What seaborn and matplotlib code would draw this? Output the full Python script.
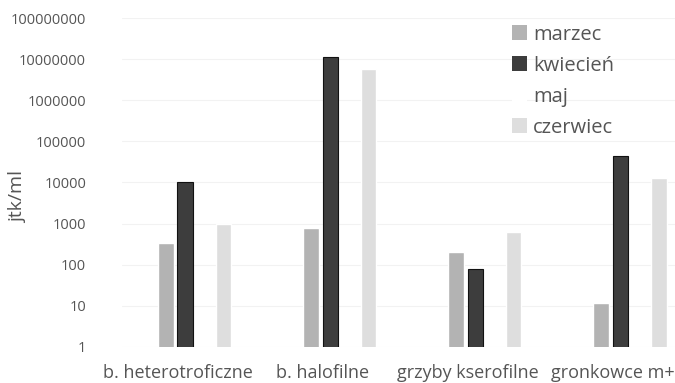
import numpy as np
import pandas as pd
import matplotlib
matplotlib.use("Agg")
import matplotlib.pyplot as plt
import matplotlib.ticker as mticker
import matplotlib.transforms as mtransforms
from matplotlib.patches import Patch
import seaborn as sns

# data (jtk/ml, log scale)
categories = ["b. heterotroficzne", "b. halofilne", "grzyby kserofilne", "gronkowce m+"]
months = ["marzec", "kwiecień", "maj", "czerwiec"]
marzec = [340, 800, 200, 12]
kwiecien = [10000, 11000000, 80, 45000]
maj = [np.nan, np.nan, np.nan, np.nan]
czerwiec = [1000, 5800000, 630, 13000]
yticks = [1, 10, 100, 1000, 10000, 100000, 1000000, 10000000, 100000000]

colors = ["#b3b3b3", "#3d3d3d", "#ffffff", "#dedede"]
txt = "#555555"

rows = []
for m, vals in zip(months, [marzec, kwiecien, maj, czerwiec]):
    for c, v in zip(categories, vals):
        rows.append({"kategoria": c, "miesiac": m, "jtk": v})
df = pd.DataFrame(rows)

sns.set_style("white")
plt.rcParams["font.family"] = ["Open Sans", "DejaVu Sans"]

fig = plt.figure(figsize=(6.75, 3.83), dpi=100)
ax = fig.add_axes([0.181, 0.094, 0.819, 0.859])

sns.barplot(data=df, x="kategoria", y="jtk", hue="miesiac", order=categories,
            hue_order=months, palette=colors, width=0.53, gap=0.2,
            edgecolor=None, legend=False, ax=ax)
# dark bars have a thin black outline
for p in ax.containers[1]:
    p.set_edgecolor("#111111")
    p.set_linewidth(0.8)

ax.set_yscale("log")
ax.set_ylim(1, 1e8)
ax.set_xlim(-0.5, 3.31)
ax.set_yticks(yticks)
ax.set_yticklabels([str(t) for t in yticks])
ax.yaxis.set_minor_locator(mticker.NullLocator())
ax.grid(axis="y", color="#f2f2f2", linewidth=0.8)
ax.set_axisbelow(True)
for s in ax.spines.values():
    s.set_visible(False)

ax.tick_params(axis="y", length=0, labelsize=10.5, labelcolor=txt, pad=26)
ax.tick_params(axis="x", length=0, labelsize=13, labelcolor=txt, pad=12)
# category labels sit a bit left of the bar groups
shift = mtransforms.ScaledTranslation(-17 / 100, 0, fig.dpi_scale_trans)
for lab in ax.get_xticklabels():
    lab.set_transform(lab.get_transform() + shift)
ax.set_xlabel("")
ax.set_ylabel("jtk/ml", fontsize=14, color=txt)
ax.yaxis.set_label_coords(-0.172, 0.456)

handles = [Patch(facecolor=c, edgecolor="none") for c in colors]
ax.legend(handles, months, loc="upper left", bbox_to_anchor=(0.672, 1.035),
          frameon=False, fontsize=14.5, labelcolor=txt, handlelength=0.75,
          handleheight=0.75, handletextpad=0.3, labelspacing=0.55)

fig.savefig("out.png", dpi=100)
